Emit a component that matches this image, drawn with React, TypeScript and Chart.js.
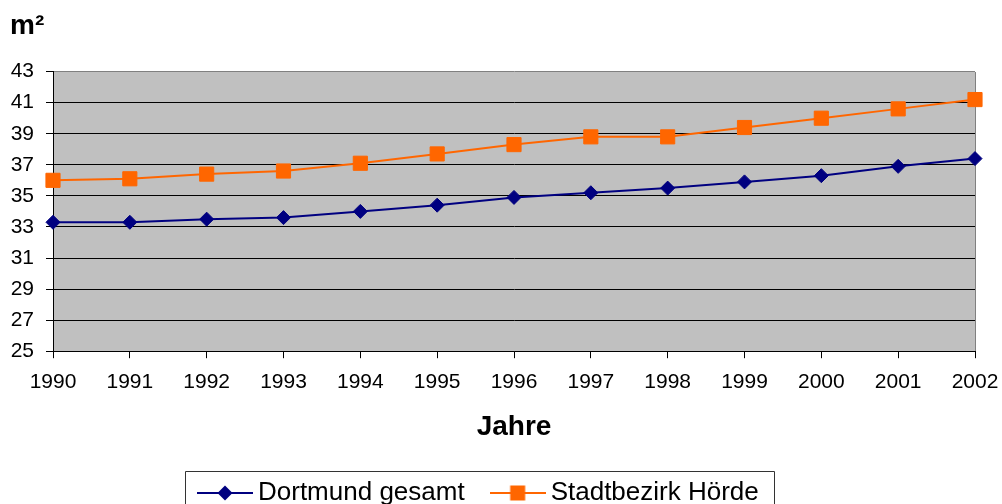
import React, { useEffect, useRef } from 'react';
import { Chart, registerables } from 'chart.js';

Chart.register(...registerables);

const years = ['1990', '1991', '1992', '1993', '1994', '1995', '1996', '1997', '1998', '1999', '2000', '2001', '2002'];
const dortmund = [33.3, 33.3, 33.5, 33.6, 34.0, 34.4, 34.9, 35.2, 35.5, 35.9, 36.3, 36.9, 37.4];
const hoerde = [36.0, 36.1, 36.4, 36.6, 37.1, 37.7, 38.3, 38.8, 38.8, 39.4, 40.0, 40.6, 41.2];
const seriesNames = ['Dortmund gesamt', 'Stadtbezirk Hörde'];
const seriesColors = ['#000080', '#FF6600'];
const yMin = 25;
const yMax = 43;
const yStep = 2;
const yTitle = 'm²';
const xTitle = 'Jahre';

const FONT = "'Liberation Sans', Arial, Helvetica, sans-serif";

function makeIcon(color: string, shape: 'diamond' | 'square'): HTMLCanvasElement {
  const c = document.createElement('canvas');
  c.width = 56;
  c.height = 20;
  const g = c.getContext('2d')!;
  g.strokeStyle = color;
  g.lineWidth = 2;
  g.beginPath();
  g.moveTo(0, 10);
  g.lineTo(56, 10);
  g.stroke();
  g.fillStyle = color;
  g.beginPath();
  if (shape === 'diamond') {
    g.moveTo(28 - 7.5, 10);
    g.lineTo(28, 10 - 7.5);
    g.lineTo(28 + 7.5, 10);
    g.lineTo(28, 10 + 7.5);
    g.closePath();
  } else {
    g.rect(28 - 7.5, 10 - 7.5, 15, 15);
  }
  g.fill();
  return c;
}

const framePlugin = {
  id: 'frame',
  beforeDraw(chart: any) {
    const { ctx, chartArea } = chart;
    const { left, top, right, bottom } = chartArea;
    ctx.save();
    ctx.fillStyle = '#C0C0C0';
    ctx.fillRect(left, top, right - left, bottom - top);
    ctx.restore();
  },
  beforeDatasetsDraw(chart: any) {
    const { ctx, chartArea } = chart;
    const { top, right, bottom } = chartArea;
    ctx.save();
    ctx.strokeStyle = '#808080';
    ctx.lineWidth = 1;
    ctx.beginPath();
    const x = Math.round(right) + 0.5;
    ctx.moveTo(x, Math.round(top));
    ctx.lineTo(x, Math.round(bottom));
    ctx.stroke();
    ctx.restore();
  },
  afterLayout(chart: any) {
    const lg = chart.legend;
    if (!lg || !lg.lineWidths) return;
    const P = lg.options.labels.padding;
    const cur = (lg.left + P + lg.right - lg.lineWidths[0]) / 2;
    const d = 205 - cur;
    lg.left += d;
    lg.right += d;
  },
  afterDraw(chart: any) {
    const lg = chart.legend;
    if (!lg || !lg.legendHitBoxes || !lg.legendHitBoxes.length) return;
    const hb = lg.legendHitBoxes;
    const first = hb[0];
    const last = hb[hb.length - 1];
    const l = Math.round(first.left - 20) + 0.5;
    const r = Math.round(last.left + last.width + 15) + 0.5;
    const t = Math.round(first.top - 9) + 0.5;
    const { ctx } = chart;
    ctx.save();
    ctx.strokeStyle = '#333333';
    ctx.lineWidth = 1;
    ctx.beginPath();
    ctx.moveTo(l, chart.height + 5);
    ctx.lineTo(l, t);
    ctx.lineTo(r, t);
    ctx.lineTo(r, chart.height + 5);
    ctx.stroke();
    ctx.restore();
  },
};

export default function App() {
  const ref = useRef<HTMLCanvasElement>(null);

  useEffect(() => {
    if (!ref.current) return;
    Chart.defaults.font.family = FONT;
    const icons = [makeIcon(seriesColors[0], 'diamond'), makeIcon(seriesColors[1], 'square')];
    const chart = new Chart(ref.current, {
      type: 'line',
      data: {
        labels: years,
        datasets: [
          {
            label: seriesNames[0],
            data: dortmund,
            borderColor: seriesColors[0],
            backgroundColor: seriesColors[0],
            borderWidth: 2,
            pointStyle: 'rectRot',
            pointRadius: 7,
            pointBorderWidth: 1,
            pointBackgroundColor: seriesColors[0],
            pointBorderColor: seriesColors[0],
            tension: 0,
            clip: false as any,
          },
          {
            label: seriesNames[1],
            data: hoerde,
            borderColor: seriesColors[1],
            backgroundColor: seriesColors[1],
            borderWidth: 2,
            pointStyle: 'rect',
            pointRadius: 10,
            pointBorderWidth: 1,
            pointBackgroundColor: seriesColors[1],
            pointBorderColor: seriesColors[1],
            tension: 0,
            clip: false as any,
          },
        ],
      },
      options: {
        responsive: false,
        animation: false,
        layout: { padding: { left: 10, right: 27, top: 0, bottom: -12 } },
        plugins: {
          title: {
            display: true,
            text: yTitle,
            align: 'start',
            color: '#000',
            font: { family: FONT, size: 28, weight: 'bold' },
            padding: { top: 9, bottom: 29 },
          },
          legend: {
            position: 'bottom',
            labels: {
              usePointStyle: true,
              pointStyleWidth: 40,
              padding: 33,
              color: '#000',
              font: { family: FONT, size: 26 },
              generateLabels: (c: any) => {
                const items = Chart.defaults.plugins.legend.labels.generateLabels(c);
                return items.map((it: any, i: number) => ({ ...it, pointStyle: icons[i], fontColor: '#000' }));
              },
            },
          },
          tooltip: { enabled: false },
        },
        scales: {
          x: {
            offset: false,
            afterFit: (s: any) => {
              s.paddingLeft = 0;
              s.paddingRight = 0;
            },
            grid: { drawOnChartArea: false, drawTicks: true, tickLength: 7, tickColor: '#000', color: '#000' },
            border: { color: '#000', width: 1 },
            ticks: { color: '#000', font: { family: FONT, size: 21 }, padding: 11, maxRotation: 0, autoSkip: false },
            title: {
              display: true,
              text: xTitle,
              color: '#000',
              font: { family: FONT, size: 28, weight: 'bold' },
              padding: { top: 5, bottom: 3 },
            },
          },
          y: {
            min: yMin,
            max: yMax,
            afterFit: (s: any) => {
              s.width = 43;
            },
            ticks: { stepSize: yStep, color: '#000', font: { family: FONT, size: 21 }, padding: 12 },
            grid: {
              color: (ctx: any) => (ctx.tick && ctx.tick.value === yMax ? '#808080' : '#000'),
              tickColor: '#000',
              tickLength: 7,
            },
            border: { color: '#000', width: 1 },
          },
        },
      },
      plugins: [framePlugin],
    });
    return () => chart.destroy();
  }, []);

  return (
    <div style={{ position: 'absolute', left: 0, top: 0, width: 1002, height: 504, background: '#fff' }}>
      <canvas ref={ref} width={1002} height={504} style={{ display: 'block' }} />
    </div>
  );
}
